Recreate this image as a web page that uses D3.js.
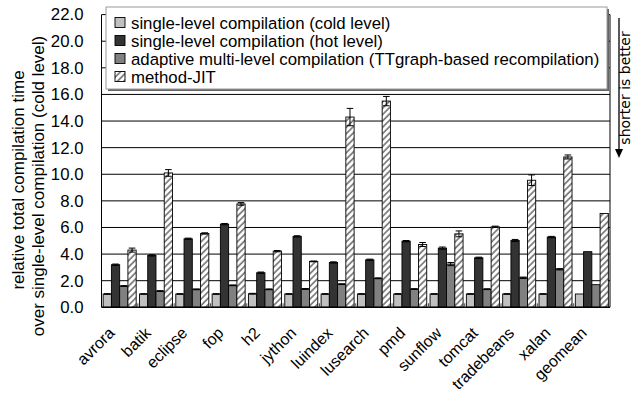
<!DOCTYPE html>
<html>
<head>
<meta charset="utf-8">
<script src="https://cdn.jsdelivr.net/npm/d3@7"></script>
<style>
  body { margin: 0; background: #fff; }
  svg { display: block; font-family: "Liberation Sans", Arial, sans-serif; }
</style>
</head>
<body>
<div id="chart"></div>
<script>
const W = 634, H = 393;

const categories = ["avrora", "batik", "eclipse", "fop", "h2", "jython", "luindex",
  "lusearch", "pmd", "sunflow", "tomcat", "tradebeans", "xalan", "geomean"];
const seriesNames = [
  "single-level compilation (cold level)",
  "single-level compilation (hot level)",
  "adaptive multi-level compilation (TTgraph-based recompilation)",
  "method-JIT"
];
const coldLevel = [1.0, 1.0, 1.0, 1.0, 1.02, 1.0, 1.0, 1.0, 1.0, 1.0, 1.0, 1.0, 1.0, 1.0];
const hotLevel = [3.2, 3.9, 5.15, 6.25, 2.6, 5.33, 3.37, 3.57, 4.97, 4.45, 3.72, 5.02, 5.28, 4.18];
const adaptive = [1.6, 1.22, 1.35, 1.65, 1.35, 1.38, 1.74, 2.18, 1.37, 3.25, 1.36, 2.22, 2.86, 1.7];
const methodJIT = [4.3, 10.1, 5.55, 7.77, 4.22, 3.45, 14.3, 15.5, 4.72, 5.52, 6.05, 9.55, 11.3, 7.05];
const coldErr = [0.02, 0.02, 0.02, 0.02, 0.03, 0.02, 0.02, 0.02, 0.02, 0.02, 0.02, 0.02, 0.02, 0];
const hotErr = [0.05, 0.05, 0.05, 0.05, 0.05, 0.05, 0.05, 0.05, 0.05, 0.08, 0.05, 0.08, 0.05, 0];
const adaptiveErr = [0.03, 0.03, 0.03, 0.03, 0.03, 0.03, 0.03, 0.03, 0.03, 0.12, 0.03, 0.05, 0.05, 0];
const jitErr = [0.15, 0.25, 0.05, 0.1, 0.05, 0.03, 0.65, 0.35, 0.15, 0.22, 0.05, 0.4, 0.15, 0];
const yTicks = [0, 2, 4, 6, 8, 10, 12, 14, 16, 18, 20, 22];

const values = [coldLevel, hotLevel, adaptive, methodJIT];
const errors = [coldErr, hotErr, adaptiveErr, jitErr];
const fills = ["#c0c0c0", "#333333", "#808080", "url(#hatch)"];

const plotLeft = 101.5, plotRight = 610, plotTop = 14.6, plotBottom = 307.3;

const svg = d3.select("#chart").append("svg")
  .attr("width", W).attr("height", H);

// hatch pattern for method-JIT
const pat = svg.append("defs").append("pattern")
  .attr("id", "hatch")
  .attr("patternUnits", "userSpaceOnUse")
  .attr("width", 4.5).attr("height", 4.5)
  .attr("patternTransform", "rotate(45)");
pat.append("rect").attr("width", 4.5).attr("height", 4.5).attr("fill", "#fff");
pat.append("line").attr("x1", 1).attr("x2", 1).attr("y1", 0).attr("y2", 4.5)
  .attr("stroke", "#777").attr("stroke-width", 1.7);

const x0 = d3.scaleBand().domain(categories).range([plotLeft, plotRight]).padding(0);
const x1 = d3.scaleBand().domain(d3.range(4)).range([0, x0.bandwidth()])
  .paddingInner(0).paddingOuter(0.2);
const y = d3.scaleLinear().domain([0, 22]).range([plotBottom, plotTop]);

// gridlines
svg.append("g").selectAll("line").data(yTicks.slice(1)).join("line")
  .attr("x1", plotLeft).attr("x2", plotRight)
  .attr("y1", d => y(d)).attr("y2", d => y(d))
  .attr("stroke", "#000").attr("stroke-width", 1);

// y tick labels
svg.append("g").selectAll("text").data(yTicks).join("text")
  .attr("x", 83.5).attr("y", d => y(d))
  .attr("dy", "0.35em")
  .attr("text-anchor", "end")
  .attr("font-size", 16.8)
  .text(d => d.toFixed(1));

// bars
const groups = svg.append("g").selectAll("g").data(categories).join("g")
  .attr("transform", d => `translate(${x0(d)},0)`);

groups.each(function(cat, i) {
  const g = d3.select(this);
  values.forEach((vals, s) => {
    const bx = x1(s), bw = x1.bandwidth();
    g.append("rect")
      .attr("x", bx).attr("width", bw)
      .attr("y", y(vals[i])).attr("height", y(0) - y(vals[i]))
      .attr("fill", fills[s])
      .attr("stroke", "#000").attr("stroke-width", 0.9);
    const e = errors[s][i];
    if (e > 0) {
      const cx = bx + bw / 2;
      const capW = bw * 0.8;
      const eb = g.append("g").attr("stroke", "#000").attr("stroke-width", 1);
      eb.append("line").attr("x1", cx).attr("x2", cx)
        .attr("y1", y(vals[i] + e)).attr("y2", y(vals[i] - e));
      [vals[i] + e, vals[i] - e].forEach(v => {
        eb.append("line").attr("x1", cx - capW / 2).attr("x2", cx + capW / 2)
          .attr("y1", y(v)).attr("y2", y(v));
      });
    }
  });
});

// axes frame
svg.append("line").attr("x1", plotLeft).attr("x2", plotLeft).attr("y1", plotTop).attr("y2", plotBottom)
  .attr("stroke", "#000");
svg.append("line").attr("x1", plotRight).attr("x2", plotRight).attr("y1", plotTop).attr("y2", plotBottom)
  .attr("stroke", "#000");
svg.append("line").attr("x1", plotLeft).attr("x2", plotRight).attr("y1", plotBottom).attr("y2", plotBottom)
  .attr("stroke", "#000").attr("stroke-width", 1.5);

// small category ticks at the baseline
svg.append("g").selectAll("line").data(categories.slice(1)).join("line")
  .attr("x1", d => x0(d)).attr("x2", d => x0(d))
  .attr("y1", plotBottom - 4).attr("y2", plotBottom)
  .attr("stroke", "#444");

// x labels
svg.append("g").selectAll("text").data(categories).join("text")
  .attr("transform", d => `translate(${x0(d) + x0.bandwidth() / 2 - 4},334) rotate(-45)`)
  .attr("text-anchor", "end")
  .attr("font-size", 16)
  .text(d => d);

// y axis title
const yTitle = ["relative total compilation time", "over single-level compilation (cold level)"];
svg.append("g").selectAll("text").data(yTitle).join("text")
  .attr("transform", (d, i) => `translate(${i ? 44 : 24},${i ? 186 : 180}) rotate(-90)`)
  .attr("text-anchor", "middle")
  .attr("font-size", 17)
  .text(d => d);

// legend
const lg = svg.append("g");
lg.append("rect").attr("x", 108).attr("y", 9).attr("width", 501).attr("height", 82)
  .attr("fill", "#666");
lg.append("rect").attr("x", 106).attr("y", 7).attr("width", 501).attr("height", 82)
  .attr("fill", "#fff").attr("stroke", "#999").attr("stroke-width", 1);
seriesNames.forEach((name, s) => {
  const cy = 22.5 + s * 18;
  lg.append("rect").attr("x", 115).attr("y", cy - 5).attr("width", 10).attr("height", 10)
    .attr("fill", fills[s]).attr("stroke", "#000").attr("stroke-width", 0.9);
  lg.append("text").attr("x", 131).attr("y", cy).attr("dy", "0.36em")
    .attr("font-size", 16.8).text(name);
});

// "shorter is better" note with arrow
svg.append("line").attr("x1", 619).attr("x2", 619).attr("y1", 18).attr("y2", 150)
  .attr("stroke", "#000").attr("stroke-width", 1.3);
svg.append("path").attr("d", "M615,149 L623,149 L619,158 Z").attr("fill", "#000");
svg.append("text")
  .attr("transform", "translate(630,88) rotate(-90)")
  .attr("text-anchor", "middle")
  .attr("font-family", "DejaVu Sans")
  .attr("font-size", 14)
  .text("shorter is better");
</script>
</body>
</html>
